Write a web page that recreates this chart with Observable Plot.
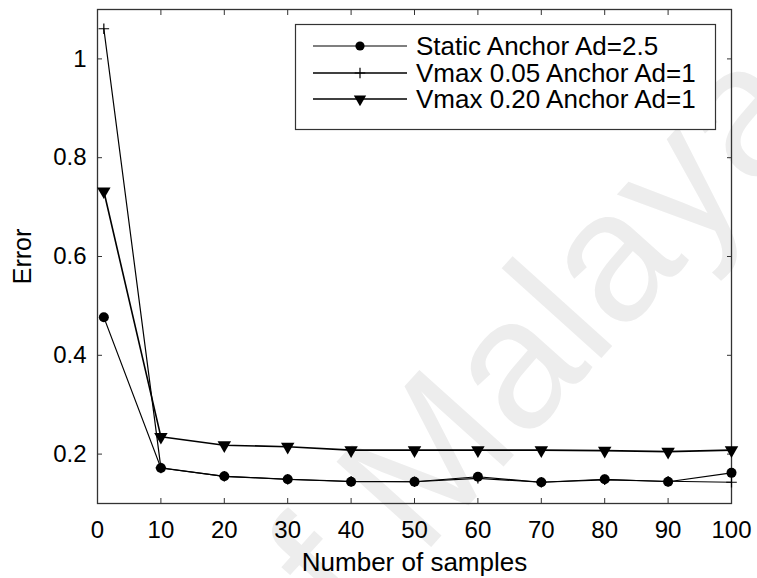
<!DOCTYPE html>
<html><head><meta charset="utf-8">
<script src="https://cdn.jsdelivr.net/npm/d3@7"></script>
<script src="https://cdn.jsdelivr.net/npm/@observablehq/plot@0.6"></script>
<style>
body{margin:0;background:#fff;}
#wrap{position:relative;width:757px;height:578px;overflow:hidden;}
#wrap svg{position:absolute;left:0;top:0;}
</style></head><body><div id="wrap"></div>
<script>
// ---- data ----
const samples = [1, 10, 20, 30, 40, 50, 60, 70, 80, 90, 100];
const staticAnchor = [0.477, 0.172, 0.155, 0.149, 0.144, 0.144, 0.154, 0.143, 0.149, 0.144, 0.162];
const vmax005 = [1.061, 0.172, 0.155, 0.149, 0.145, 0.144, 0.151, 0.143, 0.148, 0.145, 0.143];
const vmax020 = [0.732, 0.235, 0.218, 0.215, 0.208, 0.208, 0.208, 0.208, 0.207, 0.205, 0.208];
const seriesNames = ["Static Anchor Ad=2.5", "Vmax 0.05 Anchor Ad=1", "Vmax 0.20 Anchor Ad=1"];
const xTicks = [0, 10, 20, 30, 40, 50, 60, 70, 80, 90, 100];
const yTicks = [0.2, 0.4, 0.6, 0.8, 1];
const xLabel = "Number of samples";
const yLabel = "Error";
const watermarkText = "University of Malaya";

const font = "'Liberation Sans', Arial, Helvetica, sans-serif";
const rows = (ys) => samples.map((x, i) => ({x, y: ys[i]}));

const triangleDown = {
  draw(context, size) {
    const y = -Math.sqrt(size / (3 * Math.sqrt(3)));
    context.moveTo(0, -y * 2);
    context.lineTo(-Math.sqrt(3) * y, y);
    context.lineTo(Math.sqrt(3) * y, y);
    context.closePath();
  }
};

const wrap = d3.select("#wrap");

// background watermark
const bg = wrap.append("svg").attr("width", 757).attr("height", 578).style("z-index", 0);
bg.append("text")
  .attr("transform", "translate(820,115) rotate(-48)")
  .attr("text-anchor", "end")
  .attr("font-family", font)
  .attr("font-size", 185)
  .attr("fill", "#ededed")
  .text(watermarkText);

const chart = Plot.plot({
  width: 757, height: 578,
  marginLeft: 97, marginRight: 26, marginTop: 9, marginBottom: 75,
  style: {fontFamily: font, background: "transparent", color: "#000", overflow: "visible"},
  x: {domain: [0, 100]},
  y: {domain: [0.1, 1.1]},
  marks: [
    Plot.axisX({ticks: xTicks, anchor: "bottom", tickSize: 0, tickPadding: 17, fontSize: 24, label: null}),
    Plot.axisX({ticks: xTicks, anchor: "bottom", tickSize: -5, tickFormat: () => "", label: null, stroke: "#333"}),
    Plot.axisX({ticks: xTicks, anchor: "top", tickSize: -5, tickFormat: () => "", label: null, stroke: "#333"}),
    Plot.axisY({ticks: yTicks, anchor: "left", tickSize: 0, tickPadding: 11, fontSize: 24, label: null, tickFormat: d3.format("~g")}),
    Plot.axisY({ticks: yTicks, anchor: "left", tickSize: -5, tickFormat: () => "", label: null, stroke: "#333"}),
    Plot.axisY({ticks: yTicks, anchor: "right", tickSize: -5, tickFormat: () => "", label: null, stroke: "#333"}),
    Plot.frame({stroke: "#333", strokeWidth: 1.3}),
    Plot.text([xLabel], {frameAnchor: "bottom", lineAnchor: "middle", dy: 59, fontSize: 26, fill: "#000"}),
    Plot.text([yLabel], {frameAnchor: "left", textAnchor: "middle", lineAnchor: "middle", dx: -75, rotate: -90, fontSize: 25, fill: "#000"}),
    Plot.line(rows(vmax005), {x: "x", y: "y", stroke: "#000", strokeWidth: 1.2}),
    Plot.dot(rows(vmax005), {x: "x", y: "y", symbol: "plus", r: 3.5, stroke: "#000", strokeWidth: 1.2}),
    Plot.line(rows(staticAnchor), {x: "x", y: "y", stroke: "#000", strokeWidth: 1.1}),
    Plot.dot(rows(staticAnchor), {x: "x", y: "y", symbol: "circle", r: 5, fill: "#000"}),
    Plot.line(rows(vmax020), {x: "x", y: "y", stroke: "#000", strokeWidth: 1.6}),
    Plot.dot(rows(vmax020), {x: "x", y: "y", symbol: triangleDown, r: 5, fill: "#000"})
  ]
});
chart.style.position = "absolute";
chart.style.left = "0"; chart.style.top = "0";
chart.style.zIndex = 1;
wrap.node().appendChild(chart);

// legend
const lg = wrap.append("svg").attr("width", 757).attr("height", 578).style("z-index", 2).style("pointer-events", "none");
lg.append("rect").attr("x", 295.5).attr("y", 24.5).attr("width", 420).attr("height", 105)
  .attr("fill", "#fff").attr("stroke", "#333").attr("stroke-width", 1.2);
const sym = [d3.symbolCircle, d3.symbolPlus, triangleDown];
const lw = [1.1, 1.6, 1.6];
const ly = [46, 73, 99];
seriesNames.forEach((name, i) => {
  const g = lg.append("g").attr("transform", `translate(0,${ly[i]})`);
  g.append("line").attr("x1", 313).attr("x2", 407).attr("stroke", "#000").attr("stroke-width", lw[i]);
  const p = g.append("path").attr("transform", "translate(360,0)")
    .attr("d", d3.symbol(sym[i], i === 1 ? 3.5 * 3.5 * Math.PI : 4.6 * 4.6 * Math.PI)());
  if (i === 1) p.attr("fill", "none").attr("stroke", "#000").attr("stroke-width", 1.2);
  else p.attr("fill", "#000");
  g.append("text").attr("x", 416).attr("dy", "0.35em").attr("font-family", font)
    .attr("font-size", 26).attr("fill", "#000").text(name);
});
</script></body></html>
